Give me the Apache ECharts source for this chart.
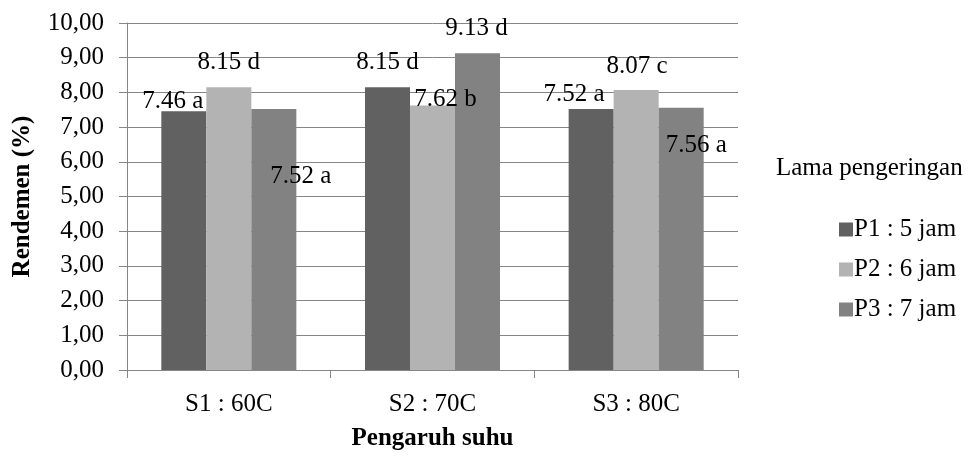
<!DOCTYPE html>
<html>
<head>
<meta charset="utf-8">
<script src="https://cdn.jsdelivr.net/npm/echarts@6/dist/echarts.min.js"></script>
<style>
html,body{margin:0;padding:0;background:#fff;}
#chart{width:979px;height:456px;}
</style>
</head>
<body>
<div id="chart"></div>
<script>
const categories = ['S1 : 60C', 'S2 : 70C', 'S3 : 80C'];
const seriesNames = ['P1 : 5 jam', 'P2 : 6 jam', 'P3 : 7 jam'];
const p1Values = [7.46, 8.15, 7.52];
const p2Values = [8.15, 7.62, 8.07];
const p3Values = [7.52, 9.13, 7.56];
const p1Letters = ['a', 'd', 'a'];
const p2Letters = ['d', 'b', 'c'];
const p3Letters = ['a', 'd', 'a'];
const yTicks = [0, 1, 2, 3, 4, 5, 6, 7, 8, 9, 10];

// label offsets (layout only), relative to default 'top' position: [series][category]
const labelOffsets = [
  [[-11, 8], [0, -7], [-17, 3]],
  [[0, -7], [13, 11], [1, -6]],
  [[27, 85], [-1, -7], [15, 55]]
];

const colors = ['#616161', '#b3b3b3', '#828282'];
const font = '"Liberation Serif", "Times New Roman", serif';
const FS = 25;
const values = [p1Values, p2Values, p3Values];
const letters = [p1Letters, p2Letters, p3Letters];

const chart = echarts.init(document.getElementById('chart'), null, {renderer: 'canvas'});
const series = seriesNames.map((name, si) => ({
  name: name,
  type: 'bar',
  barGap: '0%',
  barCategoryGap: '33.7%',
  itemStyle: {color: colors[si]},
  emphasis: {disabled: true},
  data: values[si].map((v, ci) => ({
    value: v,
    label: {
      show: true,
      position: 'top',
      distance: 5,
      offset: labelOffsets[si][ci],
      formatter: v.toFixed(2) + ' ' + letters[si][ci],
      color: '#000',
      fontFamily: font,
      fontSize: FS
    }
  }))
}));

chart.setOption({
  animation: false,
  backgroundColor: '#fff',
  grid: {left: 127, right: 241, top: 23, bottom: 82, containLabel: false},
  title: {
    text: 'Lama pengeringan',
    left: 776, top: 156,
    padding: 0,
    textStyle: {fontFamily: font, fontSize: FS, fontWeight: 'normal', color: '#000'}
  },
  legend: {
    orient: 'vertical',
    left: 839, top: 217,
    padding: 0,
    itemWidth: 14, itemHeight: 14,
    itemGap: 15,
    icon: 'rect',
    data: seriesNames,
    textStyle: {fontFamily: font, fontSize: FS, color: '#000', padding: [0, 0, 0, -4]}
  },
  xAxis: {
    type: 'category',
    data: categories,
    name: 'Pengaruh suhu',
    nameLocation: 'middle',
    nameGap: 56,
    nameTextStyle: {fontFamily: font, fontSize: FS, fontWeight: 'bold', color: '#000'},
    axisLine: {lineStyle: {color: '#868686', width: 1}},
    axisTick: {show: true, alignWithLabel: false, length: 8, lineStyle: {color: '#868686'}},
    axisLabel: {fontFamily: font, fontSize: FS, color: '#000', margin: 22},
    splitLine: {show: false}
  },
  yAxis: {
    type: 'value',
    min: yTicks[0],
    max: yTicks[yTicks.length - 1],
    interval: 1,
    name: 'Rendemen (%)',
    nameLocation: 'middle',
    nameGap: 92,
    nameRotate: 90,
    nameTextStyle: {fontFamily: font, fontSize: FS, fontWeight: 'bold', color: '#000'},
    axisLine: {show: true, lineStyle: {color: '#868686', width: 1}},
    axisTick: {show: true, inside: false, length: 8, lineStyle: {color: '#868686'}},
    axisLabel: {
      fontFamily: font, fontSize: FS, color: '#000', margin: 23,
      formatter: v => v.toFixed(2).replace('.', ',')
    },
    splitLine: {show: true, lineStyle: {color: '#868686', width: 1}}
  },
  series: series
});
</script>
</body>
</html>
